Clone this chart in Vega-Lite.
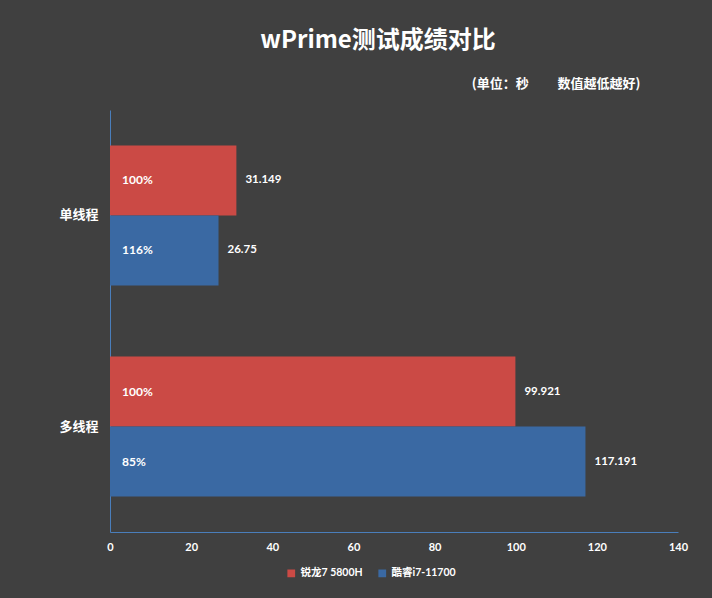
{
  "$schema": "https://vega.github.io/schema/vega-lite/v6.json",
  "width": 568,
  "height": 422,
  "autosize": {"type": "none"},
  "padding": {"left": 110, "top": 110, "right": 34, "bottom": 66},
  "background": "#404040",
  "config": {
    "view": {"stroke": null},
    "font": "Lato, Noto Sans CJK SC",
    "axis": {"labelColor": "#FFFFFF", "labelFontWeight": "bold", "ticks": false, "grid": false, "domainColor": "#4A7EBB"},
    "legend": {"labelColor": "#FFFFFF", "labelFontWeight": "bold"}
  },
  "title": {
    "text": "wPrime测试成绩对比",
    "color": "#FFFFFF",
    "fontSize": 24,
    "fontWeight": "bold",
    "font": "Noto Sans CJK SC",
    "anchor": "middle",
    "dx": -16,
    "offset": 24
  },
  "data": {
    "values": [
      {"category": "单线程", "series": "锐龙7 5800H", "value": 31.149, "pct": "100%"},
      {"category": "单线程", "series": "酷睿i7-11700", "value": 26.75, "pct": "116%"},
      {"category": "多线程", "series": "锐龙7 5800H", "value": 99.921, "pct": "100%"},
      {"category": "多线程", "series": "酷睿i7-11700", "value": 117.191, "pct": "85%"}
    ]
  },
  "encoding": {
    "y": {
      "field": "category",
      "type": "nominal",
      "sort": ["单线程", "多线程"],
      "scale": {"paddingInner": 0.3365, "paddingOuter": 0.168},
      "axis": {
        "title": "(单位：秒\u3000\u3000 数值越低越好)",
        "titleAngle": 0,
        "titleX": 530,
        "titleY": -27,
        "titleAlign": "right",
        "titleBaseline": "middle",
        "titleColor": "#FFFFFF",
        "titleFontSize": 13,
        "titleFontWeight": "bold",
        "titleFont": "Noto Sans CJK SC",
        "labelFontSize": 13,
        "labelPadding": 12,
        "labelFont": "Noto Sans CJK SC"
      }
    },
    "yOffset": {
      "field": "series",
      "type": "nominal",
      "sort": ["锐龙7 5800H", "酷睿i7-11700"],
      "scale": {"paddingInner": 0, "paddingOuter": 0}
    }
  },
  "layer": [
    {
      "mark": {"type": "bar"},
      "encoding": {
        "x": {
          "field": "value",
          "type": "quantitative",
          "scale": {"domain": [0, 140]},
          "axis": {"title": null, "values": [0, 20, 40, 60, 80, 100, 120, 140], "labelFontSize": 11, "labelPadding": 9, "labelFlush": false}
        },
        "color": {
          "field": "series",
          "type": "nominal",
          "sort": ["锐龙7 5800H", "酷睿i7-11700"],
          "scale": {"domain": ["锐龙7 5800H", "酷睿i7-11700"], "range": ["#CB4A45", "#3A69A3"]},
          "legend": {
            "title": null,
            "orient": "none",
            "legendX": 176,
            "legendY": 458,
            "direction": "horizontal",
            "symbolType": "square",
            "symbolSize": 60,
            "symbolStrokeWidth": 0,
            "labelFontSize": 10.5,
            "columnPadding": 14
          }
        }
      }
    },
    {
      "mark": {"type": "text", "align": "left", "dx": 12, "color": "#FFFFFF", "fontWeight": "bold", "fontSize": 12},
      "encoding": {
        "x": {"datum": 0, "type": "quantitative"},
        "text": {"field": "pct"}
      }
    },
    {
      "mark": {"type": "text", "align": "left", "dx": 9, "color": "#FFFFFF", "fontWeight": "bold", "fontSize": 11.5},
      "encoding": {
        "x": {"field": "value", "type": "quantitative"},
        "text": {"field": "value"}
      }
    }
  ]
}
